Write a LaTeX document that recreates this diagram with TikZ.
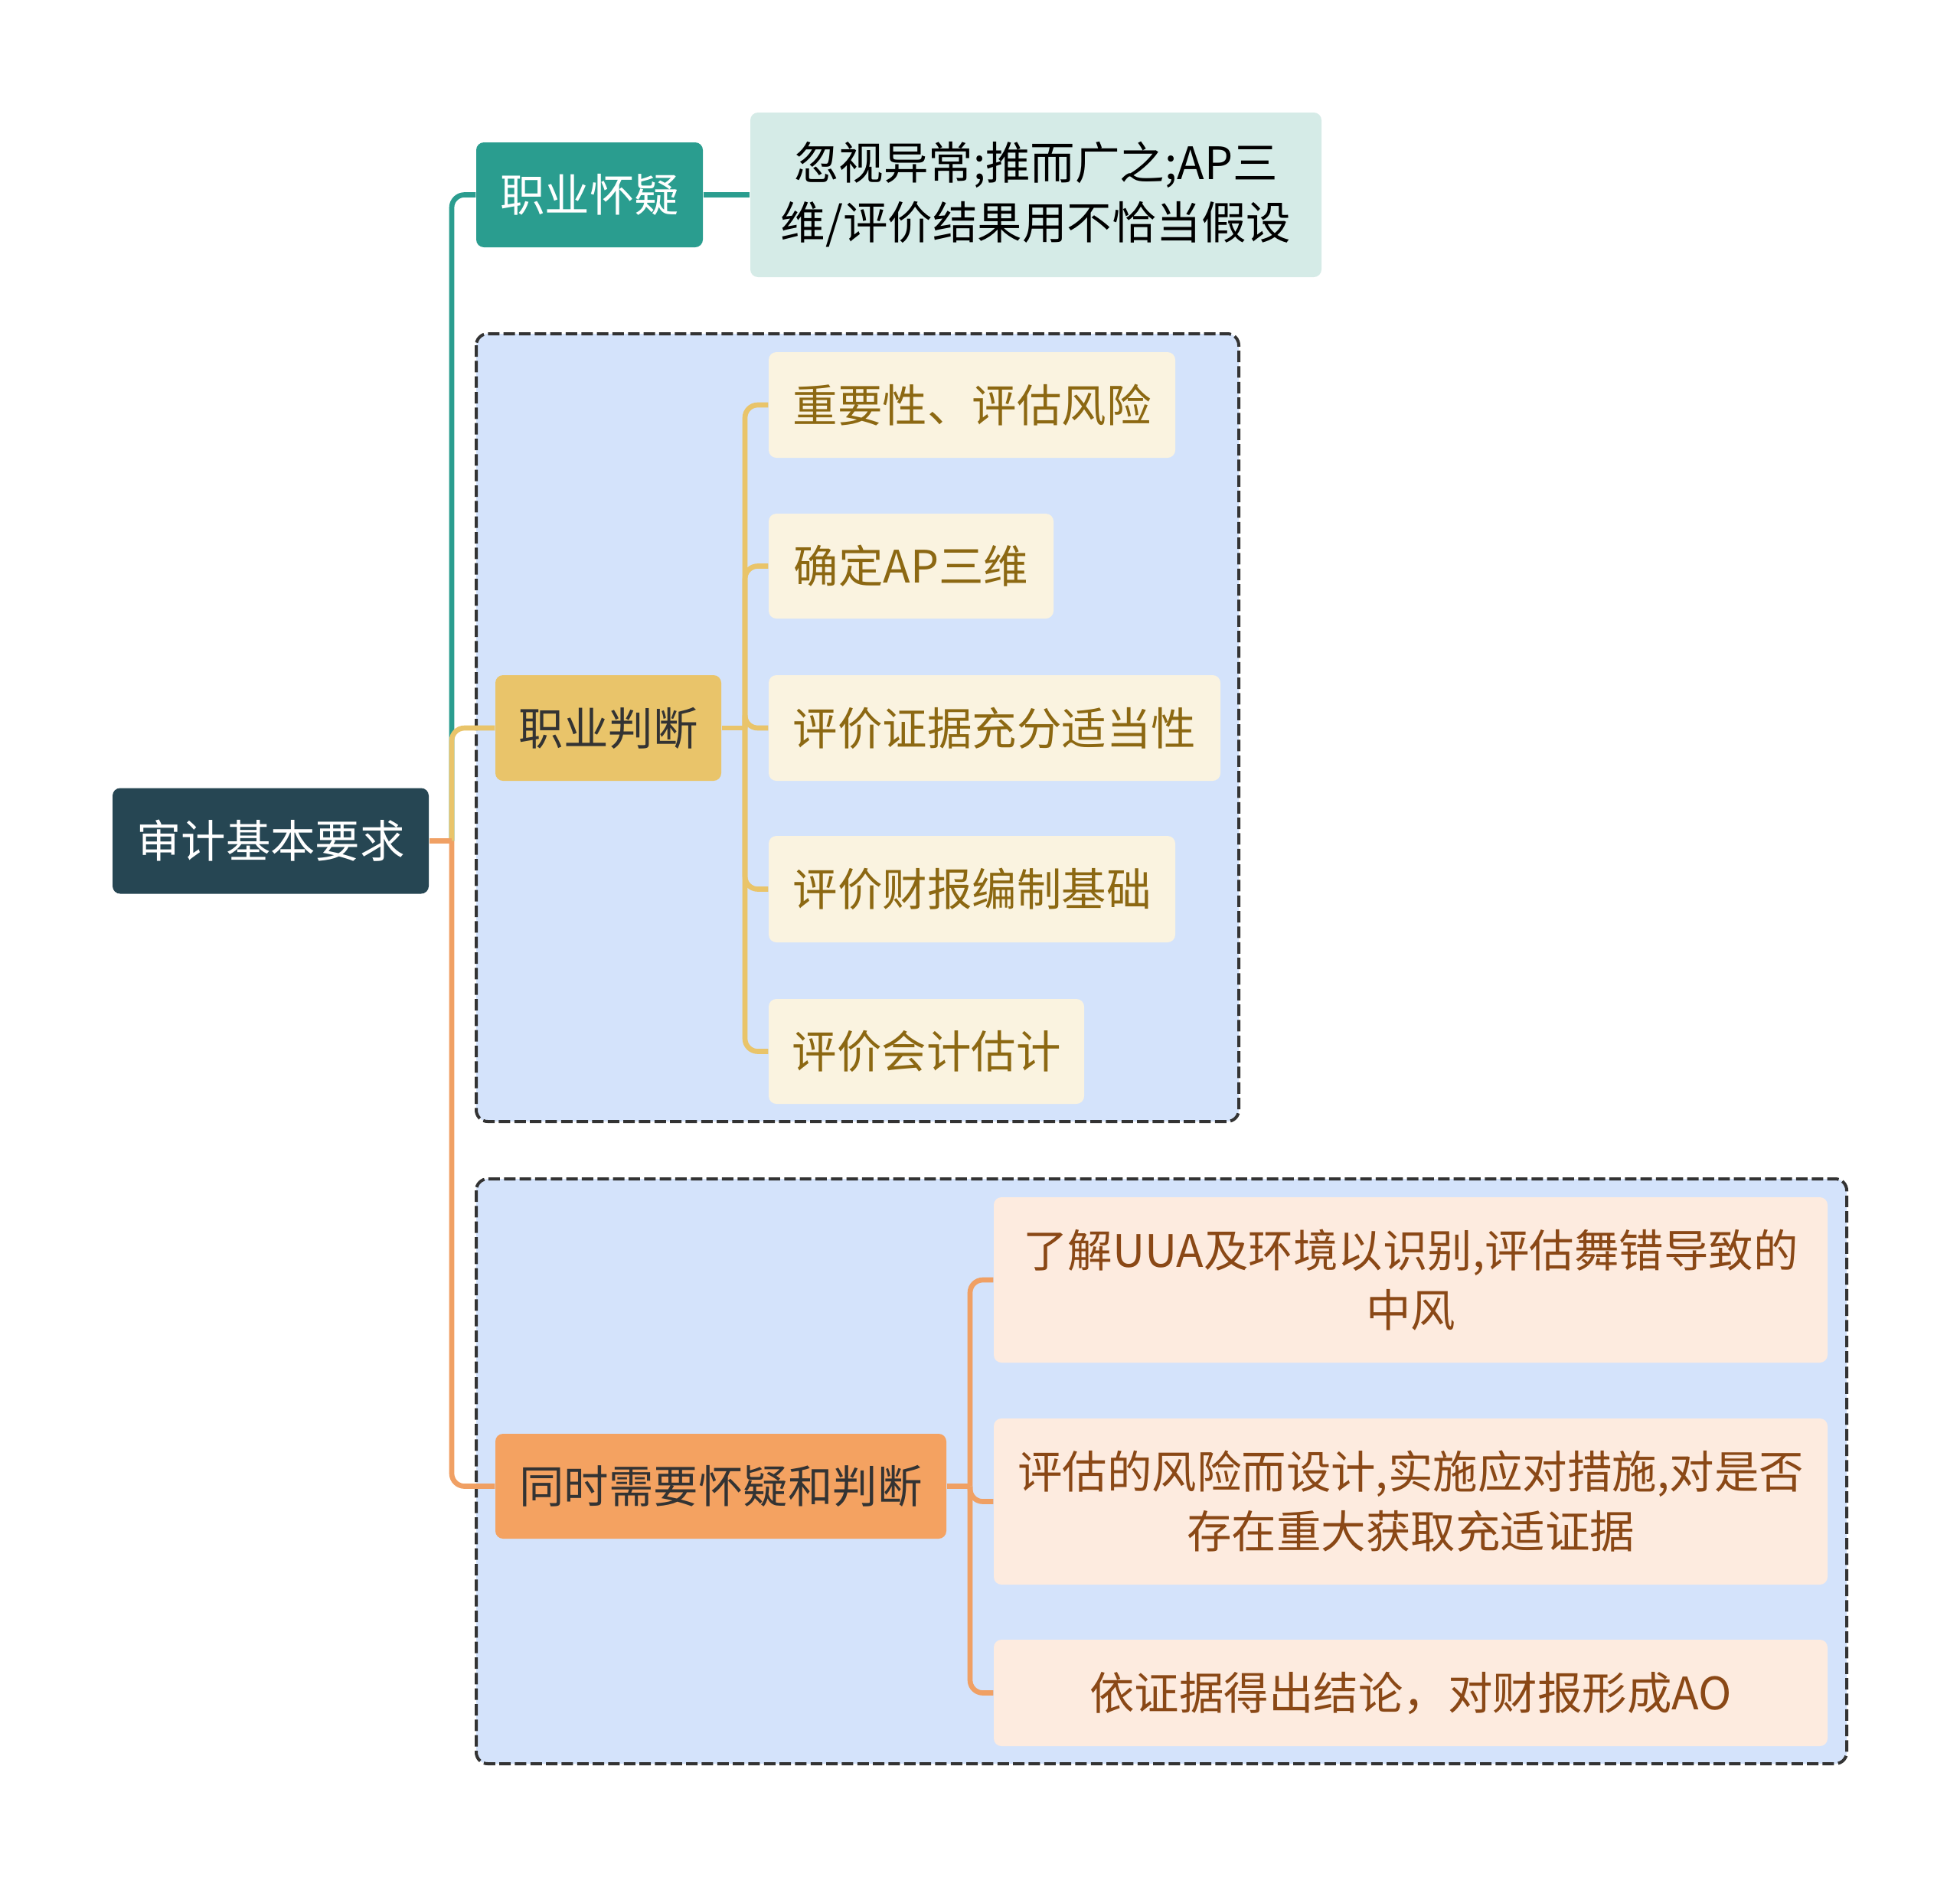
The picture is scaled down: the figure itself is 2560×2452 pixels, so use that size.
\documentclass[tikz,border=0pt]{standalone}
\usepackage{fontspec}
\setmainfont{Noto Sans CJK SC}
\usepackage{tikz}

\begin{document}
\begin{tikzpicture}[x=0.3pt,y=0.3pt,yscale=-1,xscale=1,
  box/.style={rounded corners=3pt,inner sep=0pt,align=center,font=\fontsize{17.55}{23.4}\selectfont},
  rootbox/.style={box,fill={rgb, 255:red, 38; green, 70; blue, 83 },text=white},
  skepbox/.style={box,fill={rgb, 255:red, 42; green, 157; blue, 143 },text=white},
  notebox/.style={box,fill={rgb, 255:red, 213; green, 235; blue, 231 },text=black},
  judgebox/.style={box,fill={rgb, 255:red, 233; green, 196; blue, 106 },text={rgb, 255:red, 51; green, 51; blue, 51 }},
  jleaf/.style={box,fill={rgb, 255:red, 250; green, 243; blue, 224 },text={rgb, 255:red, 140; green, 104; blue, 18 }},
  bothbox/.style={box,fill={rgb, 255:red, 244; green, 162; blue, 97 },text={rgb, 255:red, 51; green, 51; blue, 51 }},
  bleaf/.style={box,fill={rgb, 255:red, 253; green, 235; blue, 223 },text={rgb, 255:red, 138; green, 72; blue, 22 }},
  groupframe/.style={draw={rgb, 255:red, 51; green, 51; blue, 51 },fill={rgb, 255:red, 212; green, 227; blue, 251 },line width=1.2pt,dash pattern=on 4.5pt off 1.6pt,rounded corners=4.5pt},
  tealline/.style={draw={rgb, 255:red, 42; green, 157; blue, 143 },line width=2pt,rounded corners=5pt},
  goldline/.style={draw={rgb, 255:red, 233; green, 196; blue, 106 },line width=2pt,rounded corners=5pt},
  orangeline/.style={draw={rgb, 255:red, 240; green, 160; blue, 100 },line width=2pt,rounded corners=5pt}
]
\useasboundingbox (0,0) rectangle (2560,2452);

%Shape: Dashed frames
\draw [groupframe] (622,436) rectangle (1618,1465);
\draw [groupframe] (622,1540) rectangle (2412,2304);

% Root
\node [rootbox,minimum width=123.9pt,minimum height=41.4pt] (root) at (353.5,1098.5) {审计基本要求};

% Branch: skepticism
\node [skepbox,minimum width=88.8pt,minimum height=41.1pt] (skep) at (770,254.5) {职业怀疑};
\node [notebox,minimum width=223.8pt,minimum height=64.5pt] (skepnote) at (1353,254.5) {忽视异常;推而广之;AP三\\维/评价结果用不恰当假设};

% Branch: judgement
\node [judgebox,minimum width=88.5pt,minimum height=41.4pt] (judge) at (794.5,951) {职业判断};
\node [jleaf,minimum width=159.3pt,minimum height=41.4pt] (jone) at (1269.5,529) {重要性、评估风险};
\node [jleaf,minimum width=111.6pt,minimum height=41.1pt] (jtwo) at (1190,739.5) {确定AP三维};
\node [jleaf,minimum width=177pt,minimum height=41.4pt] (jthree) at (1299,951) {评价证据充分适当性};
\node [jleaf,minimum width=159.3pt,minimum height=41.7pt] (jfour) at (1269.5,1161.5) {评价财报编制基础};
\node [jleaf,minimum width=123.6pt,minimum height=41.1pt] (jfive) at (1210,1373.5) {评价会计估计};

% Branch: both
\node [bothbox,minimum width=176.7pt,minimum height=41.1pt] (both) at (941.5,1941.5) {同时需要怀疑和判断};
\node [bleaf,minimum width=326.7pt,minimum height=64.8pt] (bone) at (1842.5,1672) {了解UUA及环境以识别,评估舞错导致的\\中风};
\node [bleaf,minimum width=326.7pt,minimum height=65.1pt] (btwo) at (1842.5,1961.5) {评估的风险而设计,实施应对措施,对是否\\存在重大获取充适证据};
\node [bleaf,minimum width=326.7pt,minimum height=41.7pt] (bthree) at (1842.5,2211.5) {依证据得出结论，对财报形成AO};

% Forks
\coordinate (rootfork) at (590,1098.5);
\coordinate (judgefork) at (973,951);
\coordinate (bothfork) at (1267,1941.5);

%Straight Lines: root to branches
\draw [tealline] (rootfork) |- (skep.west);
\draw [tealline] (skep.east) -- (skepnote.west);
\draw [goldline] (rootfork) |- (judge.west);
\draw [orangeline] (rootfork) |- (both.west);
\draw [orangeline] (root.east) -- (rootfork);

%Straight Lines: judgement leaves
\draw [goldline] (judge.east) -- (judgefork);
\foreach \leaf in {jone,jtwo,jthree,jfour,jfive}
  \draw [goldline] (judgefork) |- (\leaf.west);

%Straight Lines: both leaves
\draw [orangeline] (both.east) -- (bothfork);
\foreach \leaf in {bone,btwo,bthree}
  \draw [orangeline] (bothfork) |- (\leaf.west);

\end{tikzpicture}
\end{document}
